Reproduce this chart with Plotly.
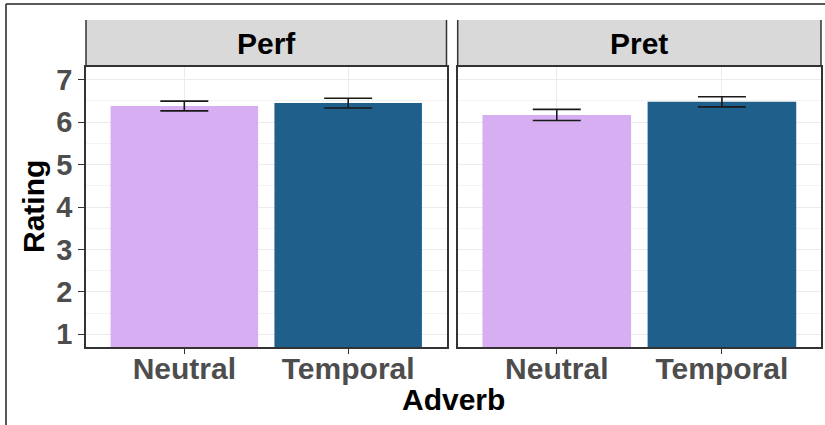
import plotly.graph_objects as go

# ---- data ----
categories = ["Neutral", "Temporal"]
panels = ["Perf", "Pret"]
perf_means = [6.38, 6.45]
perf_se = [0.115, 0.115]
pret_means = [6.17, 6.48]
pret_se = [0.13, 0.12]
y_ticks = [1, 2, 3, 4, 5, 6, 7]

bar_colors = ["#D7AEF2", "#1F5F8B"]
FONT = "Liberation Sans, Arial, sans-serif"
TICK_COL = "#4D4D4D"
LINE_COL = "#333333"

fig = go.Figure()
series = [(perf_means, perf_se, "x", "y"), (pret_means, pret_se, "x2", "y2")]
for means, se, xa, ya in series:
    fig.add_trace(go.Bar(
        x=categories, y=means, xaxis=xa, yaxis=ya,
        marker=dict(color=bar_colors, line=dict(width=0)),
        error_y=dict(type="data", array=se, visible=True, color="#1A1A1A",
                     thickness=1.6, width=24),
        showlegend=False,
    ))

W, H = 825, 425
ml, mr, mt, mb = 86, 4, 20, 78
pw = W - ml - mr
ph = H - mt - mb
panel_top_px = 67
ydom_top = (H - mb - panel_top_px) / ph
d1 = (446.5 - ml) / pw
d2 = (457.7 - ml) / pw

xcommon = dict(type="category", range=[-0.6, 1.6], showgrid=True, gridcolor="#EBEBEB",
               gridwidth=1.3, ticks="outside", ticklen=5, tickcolor=LINE_COL, tickwidth=1.3,
               tickfont=dict(family=FONT, size=30, color=TICK_COL, weight="bold"),
               ticklabelstandoff=-11,
               showline=True, linecolor=LINE_COL, linewidth=1.5, mirror=True, zeroline=False)
ycommon = dict(range=[0.7, 7.3], tickvals=y_ticks, showgrid=True, gridcolor="#EBEBEB",
               gridwidth=1.3, minor=dict(dtick=0.5, tick0=0.5, showgrid=True,
                                         gridcolor="#F3F3F3", gridwidth=1),
               showline=True, linecolor=LINE_COL, linewidth=1.5, mirror=True, zeroline=False,
               domain=[0, ydom_top])

fig.update_layout(
    width=W, height=H, margin=dict(l=ml, r=mr, t=mt, b=mb, autoexpand=False),
    paper_bgcolor="white", plot_bgcolor="white", bargap=0.1,
    xaxis=dict(domain=[0, d1], anchor="y", **xcommon),
    xaxis2=dict(domain=[d2, 1], anchor="y2", **xcommon),
    yaxis=dict(anchor="x", ticks="outside", ticklen=6, tickcolor=LINE_COL, tickwidth=1.3,
               tickfont=dict(family=FONT, size=29, color=TICK_COL, weight="bold"),
               **ycommon),
    yaxis2=dict(anchor="x2", showticklabels=False, ticks="", matches="y", **ycommon),
)

strip_h = (panel_top_px - mt) / (H - mb - panel_top_px)
for i, (xa, ya) in enumerate([("x", "y"), ("x2", "y2")]):
    fig.add_shape(type="rect", xref=f"{xa} domain", yref=f"{ya} domain",
                  x0=0, x1=1, y0=1, y1=1 + strip_h, fillcolor="#D9D9D9",
                  line=dict(width=0), layer="below")
    for xx in (0, 1):
        fig.add_shape(type="line", xref=f"{xa} domain", yref=f"{ya} domain",
                      x0=xx, x1=xx, y0=1, y1=1 + strip_h,
                      line=dict(color=LINE_COL, width=1.5))
    fig.add_annotation(text=panels[i], xref=f"{xa} domain", yref=f"{ya} domain",
                       x=0.5, y=1 + strip_h / 2, showarrow=False, yanchor="middle",
                       font=dict(family=FONT, size=30, color="black", weight="bold"))

# axis titles
fig.add_annotation(text="Rating", xref="paper", yref="paper",
                   x=(33 - ml) / pw, y=(H - mb - 207) / ph, textangle=-90,
                   showarrow=False, xanchor="center", yanchor="middle",
                   font=dict(family=FONT, size=30, color="black", weight="bold"))
fig.add_annotation(text="Adverb", xref="paper", yref="paper",
                   x=(453 - ml) / pw, y=(H - mb - 399) / ph,
                   showarrow=False, xanchor="center", yanchor="middle",
                   font=dict(family=FONT, size=30, color="black", weight="bold"))

# outer image frame
fx0 = (6 - ml) / pw
fy0 = (H - mb - 4) / ph
fig.add_shape(type="line", xref="paper", yref="paper", x0=fx0, x1=1.02, y0=fy0, y1=fy0,
              line=dict(color="#222222", width=1.5))
fig.add_shape(type="line", xref="paper", yref="paper", x0=fx0, x1=fx0, y0=fy0, y1=-0.3,
              line=dict(color="#222222", width=1.5))

fig.write_html("out.html", config={"displayModeBar": False},
               post_script="document.body.style.margin='0';document.body.style.overflow='hidden';")
